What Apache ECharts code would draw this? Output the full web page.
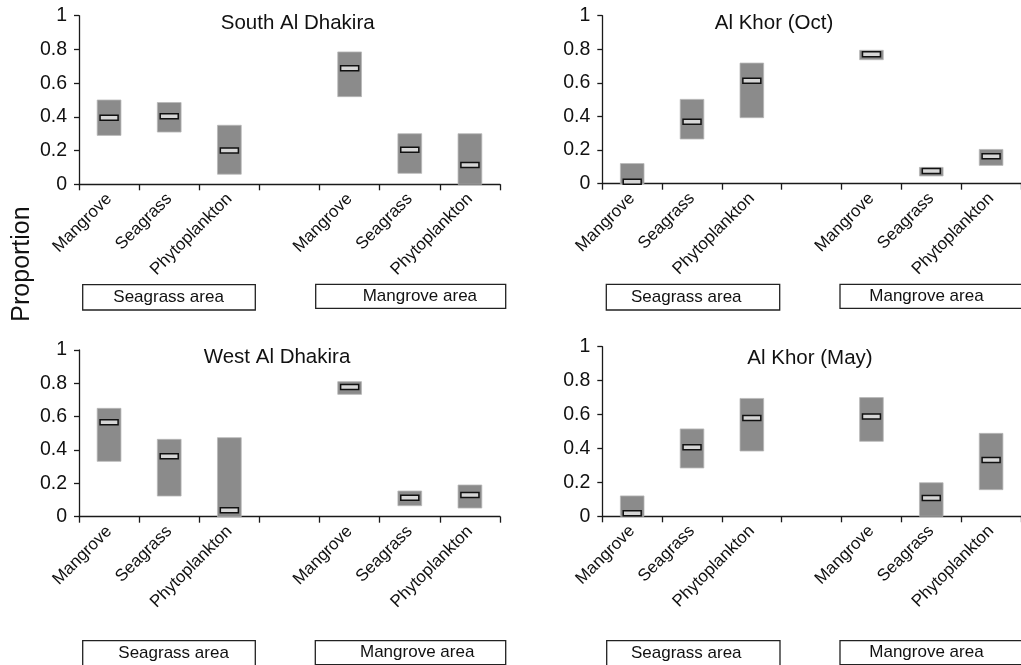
<!DOCTYPE html>
<html>
<head>
<meta charset="utf-8">
<script src="https://cdn.jsdelivr.net/npm/echarts@6/dist/echarts.min.js"></script>
<style>html,body{margin:0;padding:0;background:#fff;}#c{width:1021px;height:665px;}</style>
</head>
<body>
<div id="c"></div>
<script>
// ---- data ----
const categories = ['Mangrove', 'Seagrass', 'Phytoplankton', '', 'Mangrove', 'Seagrass', 'Phytoplankton'];
const yTicks = [0, 0.2, 0.4, 0.6, 0.8, 1];
const panelTitles = ['South Al Dhakira', 'Al Khor (Oct)', 'West Al Dhakira', 'Al Khor (May)'];
const areaLabels = ['Seagrass area', 'Mangrove area'];

const southLow  = [0.29, 0.31, 0.06, null, 0.52, 0.065, 0.00];
const southHigh = [0.50, 0.485, 0.35, null, 0.785, 0.30, 0.30];
const southMed  = [0.395, 0.403, 0.20, null, 0.688, 0.205, 0.115];

const octLow  = [0.00, 0.266, 0.393, null, 0.738, 0.046, 0.109];
const octHigh = [0.12, 0.502, 0.718, null, 0.794, 0.097, 0.204];
const octMed  = [0.012, 0.369, 0.613, null, 0.770, 0.075, 0.163];

const westLow  = [0.332, 0.124, 0.00, null, 0.734, 0.066, 0.052];
const westHigh = [0.650, 0.464, 0.474, null, 0.810, 0.154, 0.190];
const westMed  = [0.566, 0.362, 0.038, null, 0.778, 0.114, 0.130];

const mayLow  = [0.00, 0.285, 0.385, null, 0.442, 0.00, 0.157];
const mayHigh = [0.12, 0.515, 0.695, null, 0.700, 0.198, 0.489];
const mayMed  = [0.018, 0.407, 0.580, null, 0.589, 0.108, 0.332];

const panels = [
  {low: southLow, high: southHigh, med: southMed},
  {low: octLow, high: octHigh, med: octMed},
  {low: westLow, high: westHigh, med: westMed},
  {low: mayLow, high: mayHigh, med: mayMed}
];

// ---- layout ----
const grids = [
  {left: 79, top: 15.7, width: 421, height: 168.6},
  {left: 602.3, top: 15.7, width: 423.5, height: 168},
  {left: 79, top: 350, width: 421, height: 166.7},
  {left: 602.3, top: 346.7, width: 423.5, height: 169.6}
];
const titlePos = [[297.7, 23], [774, 23], [277, 357], [810, 358]];
const boxPos = [
  [{x: 82.7, y: 284.7, w: 172.6, h: 25.3, tx: 113.3}, {x: 315.7, y: 284.3, w: 190, h: 24, tx: 362.7}],
  [{x: 606.3, y: 284.3, w: 173.4, h: 25.7, tx: 631}, {x: 840, y: 284.3, w: 190, h: 24, tx: 869.3}],
  [{x: 82.7, y: 640.7, w: 172.6, h: 26, tx: 118.3}, {x: 315.3, y: 640.7, w: 190.4, h: 24, tx: 360}],
  [{x: 606.7, y: 640.7, w: 173.3, h: 26, tx: 631}, {x: 840, y: 640.7, w: 190, h: 24, tx: 869.3}]
];

const FONT = "'Liberation Sans', Arial, Helvetica, sans-serif";
const axisColor = '#1a1a1a';

function rangeRender(params, api) {
  const x = api.value(0);
  const p0 = api.coord([x, api.value(1)]);
  const p1 = api.coord([x, api.value(2)]);
  const w = api.size([1, 0])[0] * 0.395;
  return {
    type: 'rect',
    shape: {x: p1[0] - w / 2, y: p1[1], width: w, height: p0[1] - p1[1]},
    style: {fill: '#8b8b8b', stroke: '#b8b8b8', lineWidth: 0.8}
  };
}
function medRender(params, api) {
  const p = api.coord([api.value(0), api.value(1)]);
  const w = api.size([1, 0])[0] * 0.3;
  return {
    type: 'rect',
    shape: {x: p[0] - w / 2, y: p[1] - 2.5, width: w, height: 5},
    style: {fill: '#d6d6d6', stroke: '#111', lineWidth: 1.5}
  };
}

const option = {
  animation: false,
  backgroundColor: '#fff',
  grid: grids.map(g => Object.assign({containLabel: false}, g)),
  xAxis: grids.map((g, i) => ({
    type: 'category', gridIndex: i, data: categories, boundaryGap: true,
    axisLine: {lineStyle: {color: axisColor, width: 1.3}},
    axisTick: {show: true, interval: 0, length: 6, lineStyle: {color: axisColor, width: 1.3}},
    axisLabel: {interval: 0, rotate: 45, margin: 12, color: '#111', fontFamily: FONT, fontSize: 17},
    splitLine: {show: false}
  })),
  yAxis: grids.map((g, i) => ({
    type: 'value', gridIndex: i, min: yTicks[0], max: yTicks[yTicks.length - 1], interval: 0.2,
    axisLine: {show: true, lineStyle: {color: axisColor, width: 1.3}},
    axisTick: {show: true, length: 5, lineStyle: {color: axisColor, width: 1.3}},
    axisLabel: {margin: 12, color: '#111', fontFamily: FONT, fontSize: 19.5},
    splitLine: {show: false}
  })),
  series: [],
  graphic: []
};

panels.forEach((p, i) => {
  const rangeData = [], medData = [];
  categories.forEach((c, k) => {
    if (p.low[k] !== null) {
      rangeData.push([k, p.low[k], p.high[k]]);
      medData.push([k, p.med[k]]);
    }
  });
  option.series.push({
    type: 'custom', xAxisIndex: i, yAxisIndex: i, renderItem: rangeRender,
    encode: {x: 0, y: [1, 2]}, data: rangeData, z: 2, clip: false
  });
  option.series.push({
    type: 'custom', xAxisIndex: i, yAxisIndex: i, renderItem: medRender,
    encode: {x: 0, y: 1}, data: medData, z: 3, clip: false
  });
  option.graphic.push({
    type: 'text', x: titlePos[i][0], y: titlePos[i][1],
    style: {text: panelTitles[i], font: '20.5px ' + FONT, fill: '#111', align: 'center', verticalAlign: 'middle'}
  });
  boxPos[i].forEach((b, j) => {
    option.graphic.push({
      type: 'rect', shape: {x: b.x, y: b.y, width: b.w, height: b.h},
      style: {fill: '#fff', stroke: '#222', lineWidth: 1.3}
    });
    option.graphic.push({
      type: 'text', x: b.tx, y: b.y + b.h / 2,
      style: {text: areaLabels[j], font: '17px ' + FONT, fill: '#111', align: 'left', verticalAlign: 'middle'}
    });
  });
});
option.graphic.push({
  type: 'text', x: 22, y: 264, rotation: Math.PI / 2,
  style: {text: 'Proportion', font: '25px ' + FONT, fill: '#111', align: 'center', verticalAlign: 'middle'}
});

const chart = echarts.init(document.getElementById('c'), null, {renderer: 'canvas'});
chart.setOption(option);
</script>
</body>
</html>
